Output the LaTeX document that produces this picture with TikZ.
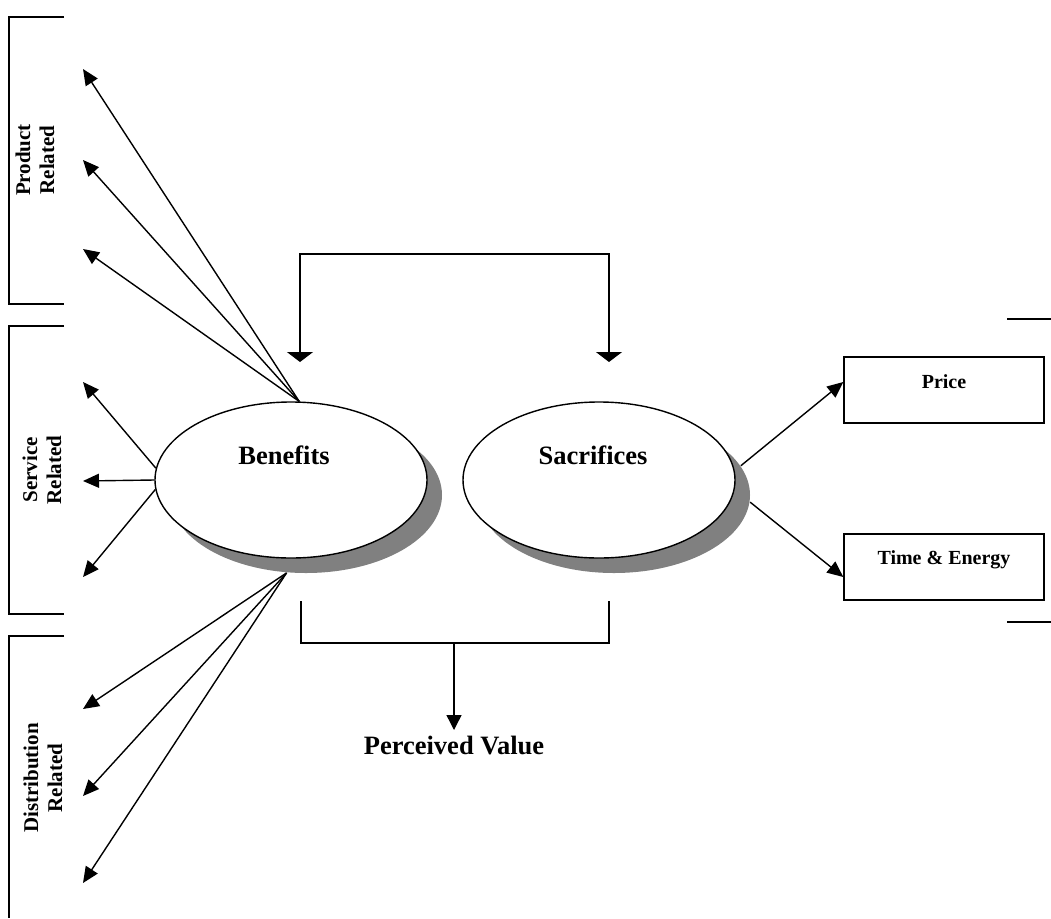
\documentclass[tikz,border=0pt]{standalone}
\usepackage{fontspec}
\setmainfont{Liberation Serif}
\usetikzlibrary{positioning, shapes, arrows.meta}

\begin{document}
\begin{tikzpicture}[x=1pt, y=-1pt, line width=1.4pt, font=\bfseries,
	bubble/.style={ellipse, draw, fill=white, minimum width=272pt, minimum height=156pt, inner sep=0pt},
	shade blob/.style={ellipse, fill=gray, minimum width=272pt, minimum height=156pt, inner sep=0pt},
	bigtext/.style={font=\bfseries\fontsize{26.5}{30}\selectfont},
	boxtext/.style={font=\bfseries\fontsize{20}{24}\selectfont},
	costbox/.style={rectangle, draw, minimum width=200pt, minimum height=66pt, inner sep=0pt},
	sidelabel/.style={rotate=90, align=center, font=\bfseries\fontsize{21}{24}\selectfont},
	fan/.style={-{Triangle[length=16pt, width=14pt]}},
	linktips/.style={{Triangle[length=10pt, width=26pt]}-{Triangle[length=10pt, width=26pt]}}]
	\useasboundingbox (0,0) rectangle (1051,918);
	% Brackets on the left
	\draw (64,17) -- (9,17) -- (9,304) -- (64,304);
	\draw (64,326) -- (9,326) -- (9,614) -- (64,614);
	\draw (64,636) -- (9,636) -- (9,918);
	\node[sidelabel] (product) at (35,160) {Product\\Related};
	\node[sidelabel] (service) at (42,470) {Service\\Related};
	\node[sidelabel] (distribution) at (43,778) {Distribution\\Related};
	% Bracket ends on the right
	\draw (1007,319) -- (1051,319);
	\draw (1007,622) -- (1051,622);
	% Benefits and Sacrifices, with their shadows
	\node[shade blob] (benshadow) at (306,495) {};
	\node[bubble, label={[bigtext, xshift=-7pt, yshift=25pt]center:Benefits}] (benefits) at (291,480) {};
	\node[shade blob] (sacshadow) at (614,495) {};
	\node[bubble, label={[bigtext, xshift=-6pt, yshift=25pt]center:Sacrifices}] (sacrifices) at (599,480) {};
	% Cost boxes
	\node[costbox, label={[boxtext, yshift=8pt]center:Price}] (price) at (944,390) {};
	\node[costbox, label={[boxtext, yshift=7pt]center:Time \& Energy}] (timeenergy) at (944,567) {};
	% Arrow tips on the left
	\foreach \y [count=\i] in {69,160,249} \coordinate (prod\i) at (83,\y);
	\foreach \y [count=\i] in {382,481,577} \coordinate (serv\i) at (83,\y);
	\foreach \y [count=\i] in {709,796,883} \coordinate (dist\i) at (83,\y);
	\foreach \i in {1,2,3} \draw[fan] (benefits.84) -- (prod\i);
	\draw[fan] (benefits.175) -- (serv1);
	\draw[fan] (benefits.180) -- (serv2);
	\draw[fan] (benefits.184) -- (serv3);
	\foreach \i in {1,2,3} \draw[fan] (benshadow.256) -- (dist\i);
	\draw[fan] (sacshadow.13) -- ([yshift=8pt]price.west);
	\draw[fan] (sacshadow.-3) -- ([yshift=-10pt]timeenergy.west);
	% Link on top
	\coordinate (benin) at (300,362);
	\coordinate (sacin) at (609,362);
	\coordinate (linkL) at (300,254);
	\coordinate (linkR) at (609,254);
	\draw[linktips] (benin) -- (linkL) -- (linkR) -- (sacin);
	% Sum into perceived value
	\coordinate (sumL) at (301,601);
	\coordinate (sumR) at (609,601);
	\coordinate (sumjoin) at (454,643);
	\node[bigtext, anchor=north, inner sep=5pt] (perceived) at (454,730) {Perceived Value};
	\draw (sumL) -- (sumL |- sumjoin) -- (sumR |- sumjoin) -- (sumR);
	\draw[-{Triangle[length=15pt, width=15pt]}] (sumjoin) -- (perceived.north);
\end{tikzpicture}
\end{document}
